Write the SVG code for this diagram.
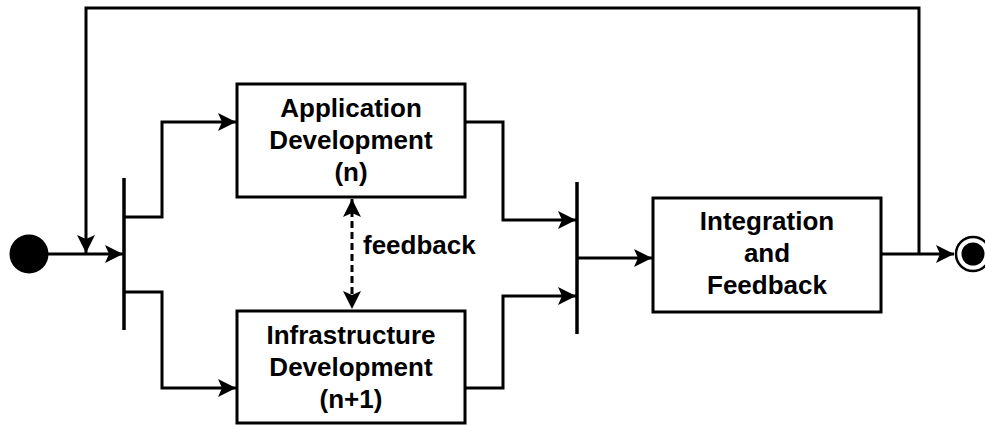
<svg xmlns="http://www.w3.org/2000/svg" width="985" height="425" viewBox="0 0 985 425">
<style>
.box{fill:#fff;stroke:#000;stroke-width:3}
.t{font-family:"Liberation Sans",Arial,sans-serif;font-weight:bold;font-size:26px;fill:#000;text-anchor:middle}
.ln{fill:none;stroke:#000;stroke-width:3}
.bar{stroke:#000;stroke-width:3.5}
.dash{fill:none;stroke:#000;stroke-width:3;stroke-dasharray:7,4}
</style>
<defs>
<marker id="ah" markerUnits="userSpaceOnUse" markerWidth="20" markerHeight="20" viewBox="-19 -10 20 20" refX="0" refY="0" orient="auto-start-reverse">
<path d="M0,0 L-18,-9 L-14,0 L-18,9 Z" fill="#000"/>
</marker>
</defs>
<rect width="985" height="425" fill="#fff"/>
<g id="connectors">
<path class="ln" d="M48,254 H123" marker-end="url(#ah)"/>
<path class="ln" d="M919,254 V8 H86 V253" marker-end="url(#ah)"/>
<path class="ln" d="M124,217 H162 V122 H236" marker-end="url(#ah)"/>
<path class="ln" d="M124,292 H162 V388 H236" marker-end="url(#ah)"/>
<path class="ln" d="M465,122 H503 V220 H576" marker-end="url(#ah)"/>
<path class="ln" d="M465,388 H503 V296 H576" marker-end="url(#ah)"/>
<path class="ln" d="M577,258 H652" marker-end="url(#ah)"/>
<path class="ln" d="M881,254 H954" marker-end="url(#ah)"/>
<path class="dash" d="M352,199 V309" marker-start="url(#ah)" marker-end="url(#ah)"/>
<text class="t" x="363" y="254" style="text-anchor:start">feedback</text>
</g>
<g id="start"><circle cx="29" cy="254" r="19.5" fill="#000"/></g>
<g id="fork"><line class="bar" x1="124" y1="178" x2="124" y2="330"/></g>
<g id="app">
<rect class="box" x="237" y="84" width="228" height="113"/>
<text class="t" x="351" y="117">Application</text>
<text class="t" x="351" y="149">Development</text>
<text class="t" x="351" y="181">(n)</text>
</g>
<g id="infra">
<rect class="box" x="237" y="311" width="228" height="112"/>
<text class="t" x="351" y="344">Infrastructure</text>
<text class="t" x="351" y="376">Development</text>
<text class="t" x="351" y="408">(n+1)</text>
</g>
<g id="join"><line class="bar" x1="577" y1="182" x2="577" y2="334"/></g>
<g id="integration">
<rect class="box" x="653" y="198" width="228" height="114"/>
<text class="t" x="767" y="230">Integration</text>
<text class="t" x="767" y="262">and</text>
<text class="t" x="767" y="294">Feedback</text>
</g>
<g id="end">
<circle cx="973" cy="254" r="17" fill="#fff" stroke="#000" stroke-width="2.5"/>
<circle cx="973" cy="254" r="11.5" fill="#000"/>
</g>
</svg>
